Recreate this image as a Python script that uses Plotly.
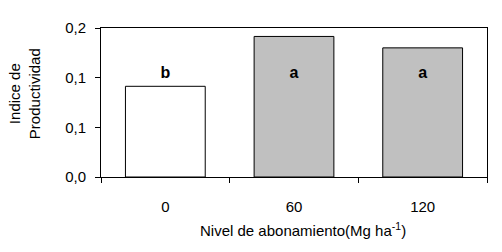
import plotly.graph_objects as go

categories = ["0", "60", "120"]
values = [0.0913, 0.1415, 0.1300]
letters = ["b", "a", "a"]
bar_colors = ["#FFFFFF", "#C0C0C0", "#C0C0C0"]
y_tickvals = [0.0, 0.05, 0.10, 0.15]
y_ticktext = ["0,0", "0,1", "0,1", "0,2"]

FONT = "Liberation Sans, Arial, sans-serif"
letter_y = 0.1035

fig = go.Figure()
fig.add_trace(go.Bar(
    x=categories, y=values,
    marker=dict(color=bar_colors, line=dict(color="black", width=1)),
    width=0.62,
    hoverinfo="skip",
))
fig.add_trace(go.Scatter(
    x=categories, y=[letter_y] * len(categories), mode="text",
    text=letters, textposition="middle center",
    textfont=dict(family=FONT, size=16, color="black", weight="bold"),
    hoverinfo="skip",
))

fig.add_annotation(xref="paper", yref="paper", x=-0.198, y=0.56,
                   text="Indice de<br>Productividad", textangle=-90, showarrow=False,
                   font=dict(family=FONT, size=15, color="black"),
                   xanchor="center", yanchor="middle")
fig.add_annotation(xref="paper", yref="paper", x=0.524, y=-0.355,
                   text="Nivel de abonamiento(Mg ha<sup>-1</sup>)", showarrow=False,
                   font=dict(family=FONT, size=15, color="black"),
                   xanchor="center", yanchor="middle")

fig.update_layout(
    width=502, height=252,
    margin=dict(l=101, r=15, t=28, b=75, autoexpand=False),
    paper_bgcolor="white", plot_bgcolor="white",
    showlegend=False,
    font=dict(family=FONT, size=15, color="black"),
    xaxis=dict(type="category", tickson="boundaries", ticks="outside", ticklen=5,
               tickcolor="black", showline=True, linecolor="black", linewidth=1,
               mirror=True, showgrid=False, range=[-0.5, 2.5], automargin=False,
               ticklabelstandoff=16, tickfont=dict(size=15)),
    yaxis=dict(range=[0, 0.15], tickvals=y_tickvals, ticktext=y_ticktext,
               ticks="outside", ticklen=5, tickcolor="black", showline=True,
               linecolor="black", linewidth=1, mirror=True, showgrid=False,
               zeroline=False, ticklabelstandoff=6, automargin=False,
               tickfont=dict(size=15)),
)
fig.write_html("out.html", config={"displayModeBar": False},
               post_script="document.body.style.margin='0';document.body.style.overflow='hidden';")
